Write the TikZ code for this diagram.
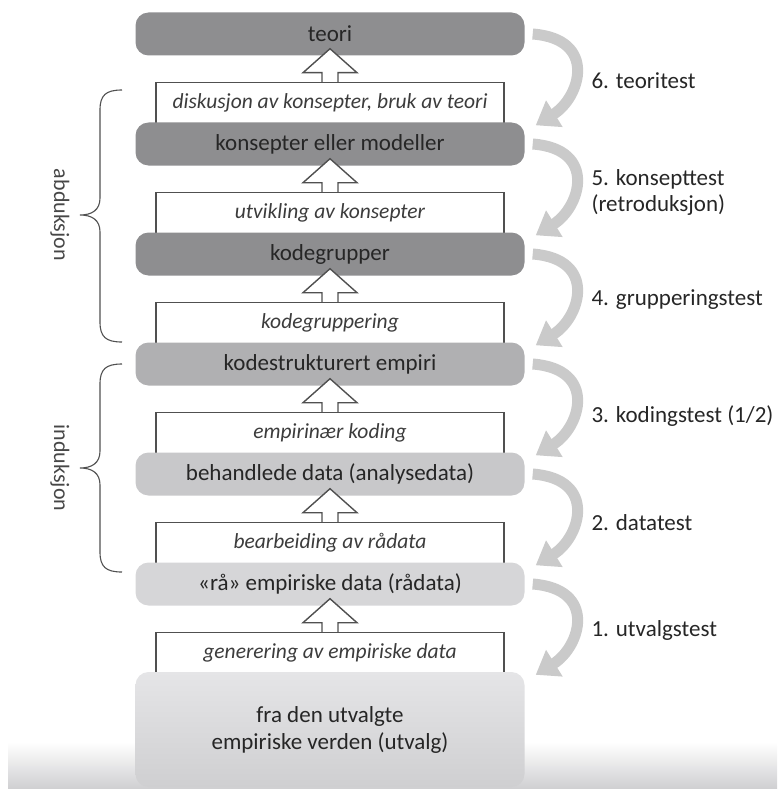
\documentclass[tikz,border=0pt]{standalone}
\usepackage{fontspec}
\setmainfont{Carlito}
\usetikzlibrary{calc,arrows.meta}

\definecolor{tekst}{HTML}{262626}
\definecolor{kant}{HTML}{505050}
\definecolor{graa1}{HTML}{8E8E90}
\definecolor{graa2}{HTML}{B0B0B2}
\definecolor{graa3}{HTML}{C8C8CA}
\definecolor{graa4}{HTML}{D6D6D8}
\definecolor{graa5}{HTML}{E5E5E7}
\definecolor{graa6}{HTML}{CFCFD1}
\definecolor{bue}{HTML}{CACACA}

\tikzset{
  niva/.style={rounded corners=13pt, minimum width=389pt, minimum height=43pt, inner sep=0pt, text=tekst, font=\fontsize{23}{27}\selectfont},
  prosess/.style={draw=kant, line width=1.4pt, fill=white, minimum width=348pt, minimum height=41pt, inner sep=0pt, text=tekst!90!white, font=\fontsize{21.5}{25}\selectfont\itshape},
  hulpil/.style={draw=kant, fill=white, line width=1.4pt},
  testpil/.style={draw=bue, line width=11pt, -{Triangle[width=30pt,length=22pt]}},
  testnavn/.style={anchor=west, text=tekst, align=left, font=\fontsize{23}{26}\selectfont},
  klamme/.style={draw=kant, line width=1.1pt},
  sidenavn/.style={rotate=-90, text=tekst!85!white, font=\fontsize{22}{26}\selectfont}
}

\newcommand{\oppover}[2]{%
  \filldraw[hulpil] ($(#1.north)+(-8,0)$) -- ($(#2.south)+(-8,17)$)
    -- ($(#2.south)+(-27,17)$) -- ($(#2.south)+(0,-7)$)
    -- ($(#2.south)+(27,17)$) -- ($(#2.south)+(8,17)$) -- ($(#1.north)+(8,0)$);
}

\begin{document}
\begin{tikzpicture}[x=1pt,y=-1pt]
  \useasboundingbox (0,0) rectangle (777,789);
  \shade[top color=white, bottom color=graa6] (8,742) rectangle (777,789);

  % prosesser
  \node[prosess] (disk) at (330,103) {diskusjon av konsepter, bruk av teori};
  \node[prosess] (utvk) at (330,213) {utvikling av konsepter};
  \node[prosess] (kgrp) at (330,323) {kodegruppering};
  \node[prosess] (koding) at (330,433) {empirinær koding};
  \node[prosess] (bearb) at (330,543) {bearbeiding av rådata};
  \node[prosess] (gener) at (330,653) {generering av empiriske data};

  % nivaer
  \node[niva, fill=graa1] (teori) at (330,34) {teori};
  \node[niva, fill=graa1] (konsept) at (330,144) {konsepter eller modeller};
  \node[niva, fill=graa1] (kodegr) at (330,254) {kodegrupper};
  \node[niva, fill=graa2] (kodestr) at (330,364) {kodestrukturert empiri};
  \node[niva, fill=graa3] (behandl) at (330,474) {behandlede data (analysedata)};
  \node[niva, fill=graa4] (raa) at (330,584) {«rå» empiriske data (rådata)};
  \node[niva, minimum height=115pt, align=center, top color=graa5, middle color=graa5, bottom color=graa6] (utvalg) at (330,729.5) {fra den utvalgte\\empiriske verden (utvalg)};

  \oppover{disk}{teori}
  \oppover{utvk}{konsept}
  \oppover{kgrp}{kodegr}
  \oppover{koding}{kodestr}
  \oppover{bearb}{behandl}
  \oppover{gener}{raa}

  % tester
  \draw[testpil] ($(teori.east)+(8,0)$) .. controls +(65,5) and +(45,-28) .. ($(konsept.north east)+(11,3)$);
  \draw[testpil] ($(konsept.east)+(8,0)$) .. controls +(65,5) and +(45,-28) .. ($(kodegr.north east)+(11,3)$);
  \draw[testpil] ($(kodegr.east)+(8,0)$) .. controls +(65,5) and +(45,-28) .. ($(kodestr.north east)+(11,3)$);
  \draw[testpil] ($(kodestr.east)+(8,0)$) .. controls +(65,5) and +(45,-28) .. ($(behandl.north east)+(11,3)$);
  \draw[testpil] ($(behandl.east)+(8,0)$) .. controls +(65,5) and +(45,-28) .. ($(raa.north east)+(11,3)$);
  \draw[testpil] ($(raa.east)+(8,0)$) .. controls +(65,5) and +(45,-28) .. ($(utvalg.north east)+(11,3)$);

  \node[testnavn] (t6) at (588,81) {6. teoritest};
  \node[testnavn] (t5) at (588,192) {5. konsepttest\\(retroduksjon)};
  \node[testnavn] (t4) at (588,300) {4. grupperingstest};
  \node[testnavn] (t3) at (588,416) {3. kodingstest (1/2)};
  \node[testnavn] (t2) at (588,523) {2. datatest};
  \node[testnavn] (t1) at (588,630) {1. utvalgstest};

  % klammer
  \draw[klamme] (122,90) .. controls (106,90) and (100,95) .. (100,110) -- (100,198)
    .. controls (100,210) and (92,215) .. (80,215) .. controls (92,215) and (100,220) .. (100,232)
    -- (100,322) .. controls (100,337) and (106,342) .. (122,342);
  \node[sidenavn] (abd) at (60,215) {abduksjon};
  \draw[klamme] (122,364) .. controls (106,364) and (100,369) .. (100,384) -- (100,451)
    .. controls (100,463) and (92,468) .. (80,468) .. controls (92,468) and (100,473) .. (100,485)
    -- (100,552) .. controls (100,567) and (106,572) .. (122,572);
  \node[sidenavn] (ind) at (60,468) {induksjon};
\end{tikzpicture}
\end{document}
